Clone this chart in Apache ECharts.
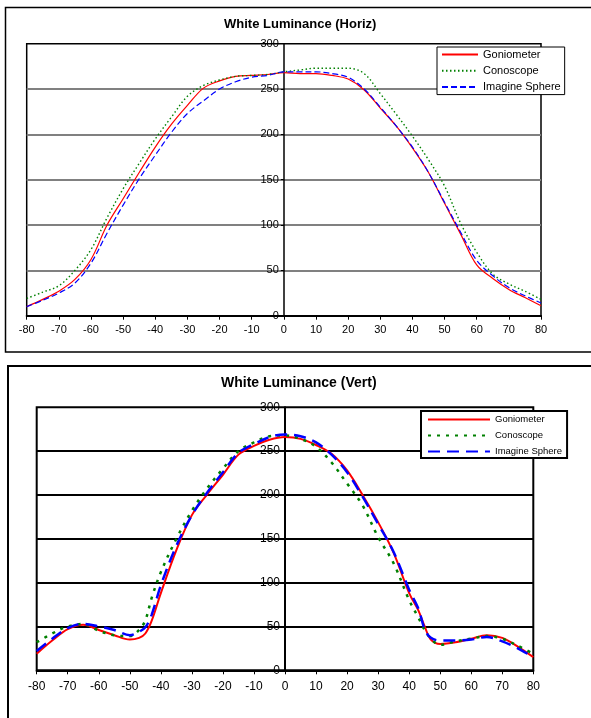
<!DOCTYPE html>
<html>
<head>
<meta charset="utf-8">
<script src="https://cdn.jsdelivr.net/npm/echarts@6/dist/echarts.min.js"></script>
<style>
  html, body { margin: 0; padding: 0; background: #fff; }
  #horiz { position: absolute; left: 0; top: 0; width: 591px; height: 360px; }
  #vert { position: absolute; left: 0; top: 360px; width: 591px; height: 358px; }
</style>
</head>
<body>
<div id="horiz"></div>
<div id="vert"></div>
<script>
// angles (deg) and luminance
const seriesNames = ['Goniometer', 'Conoscope', 'Imagine Sphere']

const hAngles = [-80, -75, -70, -65, -60, -55, -50, -45, -40, -35, -30, -25, -20, -15, -10, -5, 0,
  5, 10, 15, 20, 25, 30, 35, 40, 45, 50, 55, 60, 65, 70, 75, 80]
const hGonio = [10, 18, 27, 40, 62, 100, 129, 158, 186, 211, 232, 251, 259, 264, 265, 266, 268,
  267, 267, 265, 261, 249, 229, 209, 185, 158, 124, 90, 56, 41, 29, 20, 11]
const hCono = [19, 26, 33, 50, 73, 108, 140, 168, 195, 219, 242, 254, 260, 264, 265, 266, 269,
  271, 273, 273, 273, 267, 245, 222, 198, 172, 143, 102, 70, 46, 35, 27, 18]
const hSphere = [10, 17, 25, 36, 58, 91, 122, 151, 177, 202, 223, 237, 250, 258, 263, 265, 269,
  269, 269, 267, 263, 250, 230, 209, 186, 158, 125, 92, 61, 44, 31, 22, 14]

const vAngles = [-80, -75, -70, -65, -60, -55, -50, -47, -45, -43, -40, -35, -30, -25, -20, -15, -10, -5, 0,
  5, 10, 15, 20, 25, 30, 35, 40, 43, 45, 47, 50, 55, 60, 65, 70, 75, 80]
const vGonio = [19, 34, 47, 52, 46, 40, 35, 37, 42, 56, 88, 137, 177, 201, 223, 246, 256, 263, 266,
  264, 257, 247, 228, 200, 169, 134, 88, 68, 50, 35, 30, 32, 36, 40, 37, 27, 15]
const vCono = [32, 42, 50, 53, 45, 40, 39, 46, 57, 82, 112, 150, 182, 208, 230, 250, 260, 267, 268,
  264, 255, 237, 213, 188, 152, 122, 80, 60, 46, 36, 29, 33, 36, 39, 36, 28, 19]
const vSphere = [22, 36, 48, 53, 50, 46, 40, 44, 49, 63, 97, 142, 177, 203, 226, 248, 258, 266, 269,
  267, 260, 246, 226, 198, 167, 135, 92, 70, 47, 37, 34, 34, 35, 38, 33, 25, 15]

const FONT = 'Arial, "Liberation Sans", sans-serif'
const W = 591

const pairs = (xs, ys) => xs.map((x, i) => [x, ys[i]])

function buildOption(cfg) {
  // value axis sits at x = 0, i.e. the middle of the plot
  const midOffset = -(W - cfg.grid.left - cfg.grid.right) / 2
  return {
    animation: false,
    backgroundColor: '#fff',
    graphic: [{
      type: 'rect',
      silent: true,
      shape: cfg.frame,
      style: { fill: 'none', stroke: '#000', lineWidth: cfg.frameWidth },
    }],
    title: {
      text: cfg.title,
      left: cfg.titleLeft,
      top: cfg.titleTop,
      padding: 0,
      textStyle: { fontFamily: FONT, fontSize: cfg.titleSize, fontWeight: 'bold', color: '#000' },
    },
    legend: {
      orient: 'vertical',
      left: cfg.legend.left,
      top: cfg.legend.top,
      padding: cfg.legend.padding,
      itemWidth: cfg.legend.itemWidth,
      itemHeight: 14,
      itemGap: cfg.legend.itemGap,
      borderColor: '#000',
      borderWidth: cfg.legend.borderWidth,
      backgroundColor: '#fff',
      itemStyle: { opacity: 0 },
      textStyle: { fontFamily: FONT, fontSize: cfg.legend.fontSize, color: '#000' },
      data: seriesNames,
    },
    grid: {
      ...cfg.grid,
      show: true,
      borderColor: '#000',
      borderWidth: cfg.gridBorder,
      backgroundColor: 'transparent',
    },
    xAxis: {
      type: 'value',
      min: -80,
      max: 80,
      interval: 10,
      axisLine: { lineStyle: { color: '#000', width: 2 } },
      axisTick: { show: true, length: 4, lineStyle: { color: '#000', width: 1 } },
      axisLabel: { fontFamily: FONT, fontSize: cfg.labelSize, color: '#000', margin: cfg.xMargin },
      splitLine: { show: false },
    },
    yAxis: {
      type: 'value',
      min: 0,
      max: 300,
      interval: 50,
      offset: midOffset,
      axisLine: { show: true, onZero: false, lineStyle: { color: '#000', width: cfg.yAxisWidth } },
      axisTick: { show: true, length: 3, lineStyle: { color: '#000', width: 1 } },
      axisLabel: { fontFamily: FONT, fontSize: cfg.labelSize, color: '#000', margin: 5 },
      splitLine: {
        show: true,
        showMinLine: false,
        showMaxLine: false,
        lineStyle: { color: cfg.splitColor, width: 2 },
      },
    },
    series: cfg.data.map((d, i) => ({
      name: seriesNames[i],
      type: 'line',
      symbol: 'none',
      smooth: 0.35,
      data: d,
      lineStyle: cfg.styles[i],
      z: 3 + i,
    })),
  }
}

const horizChart = echarts.init(document.getElementById('horiz'))
horizChart.setOption(buildOption({
  title: 'White Luminance (Horiz)',
  titleLeft: 224,
  titleTop: 18,
  titleSize: 13,
  frame: { x: 5.5, y: 7.5, width: 700, height: 344.5 },
  frameWidth: 1.5,
  legend: { left: 437, top: 47, padding: [2, 4, 2, 4], itemWidth: 36, itemGap: 5, borderWidth: 1, fontSize: 11 },
  grid: { left: 26.7, right: 50, top: 43.7, bottom: 44.3 },
  gridBorder: 1.5,
  labelSize: 11,
  xMargin: 9,
  yAxisWidth: 1.5,
  splitColor: '#808080',
  data: [pairs(hAngles, hGonio), pairs(hAngles, hCono), pairs(hAngles, hSphere)],
  styles: [
    { color: '#ff0000', width: 1.2, type: 'solid' },
    { color: '#008000', width: 1.4, type: [1.5, 2.5] },
    { color: '#0000ff', width: 1.2, type: [6, 3] },
  ],
}))

const vertChart = echarts.init(document.getElementById('vert'))
vertChart.setOption(buildOption({
  title: 'White Luminance (Vert)',
  titleLeft: 221,
  titleTop: 16,
  titleSize: 14,
  frame: { x: 8, y: 6, width: 700, height: 400 },
  frameWidth: 2,
  legend: { left: 421, top: 51, padding: [3, 5, 1, 6], itemWidth: 62, itemGap: 4.7, borderWidth: 2, fontSize: 9.5 },
  grid: { left: 36.7, right: 57.7, top: 47.3, bottom: 47.7 },
  gridBorder: 2,
  labelSize: 12,
  xMargin: 10,
  yAxisWidth: 2,
  splitColor: '#000',
  data: [pairs(vAngles, vGonio), pairs(vAngles, vCono), pairs(vAngles, vSphere)],
  styles: [
    { color: '#ff0000', width: 2, type: 'solid' },
    { color: '#008000', width: 2.5, type: [3, 6] },
    { color: '#0000ff', width: 2.5, type: [12, 7] },
  ],
}))

window.addEventListener('resize', () => {
  horizChart.resize()
  vertChart.resize()
})
</script>
</body>
</html>
